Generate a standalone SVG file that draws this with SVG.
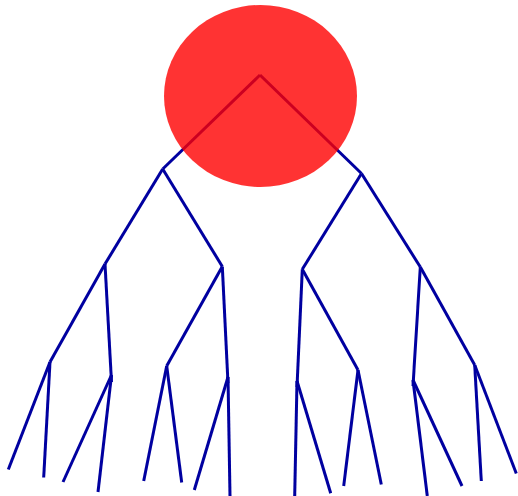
<svg xmlns="http://www.w3.org/2000/svg" width="518" height="496" viewBox="0 0 518 496">
<style>
.e{stroke:#0000a0;stroke-width:3;stroke-linecap:butt;fill:none}
</style>
<rect width="518" height="496" fill="#fff"/>
<g id="connectors" class="e">
<line x1="260" y1="75" x2="162.7" y2="169"/>
<line x1="260" y1="75" x2="361.5" y2="173.5"/>
<line x1="162.7" y1="169" x2="105" y2="264"/>
<line x1="162.7" y1="169" x2="222.3" y2="266.5"/>
<line x1="105" y1="264" x2="50" y2="362"/>
<line x1="105" y1="264" x2="111.5" y2="382"/>
<line x1="50" y1="362" x2="8.3" y2="469.5"/>
<line x1="50" y1="362" x2="43.7" y2="477.5"/>
<line x1="111.5" y1="375" x2="63" y2="482"/>
<line x1="111.5" y1="375" x2="98" y2="492"/>
<line x1="222.3" y1="266.5" x2="166.7" y2="366"/>
<line x1="222.3" y1="266.5" x2="228" y2="383"/>
<line x1="166.7" y1="366" x2="143.7" y2="481"/>
<line x1="166.7" y1="366" x2="181.7" y2="482.5"/>
<line x1="228" y1="377" x2="194.3" y2="490"/>
<line x1="228" y1="377" x2="230" y2="496"/>
<line x1="361.5" y1="173.5" x2="302.3" y2="269.3"/>
<line x1="361.5" y1="173.5" x2="420.3" y2="267"/>
<line x1="302.3" y1="269.3" x2="297" y2="387"/>
<line x1="302.3" y1="269.3" x2="358" y2="370"/>
<line x1="297" y1="381" x2="294.7" y2="496"/>
<line x1="297" y1="381" x2="330.7" y2="493.3"/>
<line x1="358" y1="370" x2="343.7" y2="486"/>
<line x1="358" y1="370" x2="381.3" y2="484.5"/>
<line x1="420.3" y1="267" x2="413" y2="386"/>
<line x1="420.3" y1="267" x2="474.7" y2="365"/>
<line x1="413" y1="380" x2="427.3" y2="496"/>
<line x1="413" y1="380" x2="462" y2="486"/>
<line x1="474.7" y1="365" x2="481.3" y2="481"/>
<line x1="474.7" y1="365" x2="516.3" y2="473.5"/>
</g>
<g id="sun">
<ellipse cx="260.5" cy="96" rx="96.5" ry="91" fill="#ff0000" fill-opacity="0.8"/>
</g>
</svg>
